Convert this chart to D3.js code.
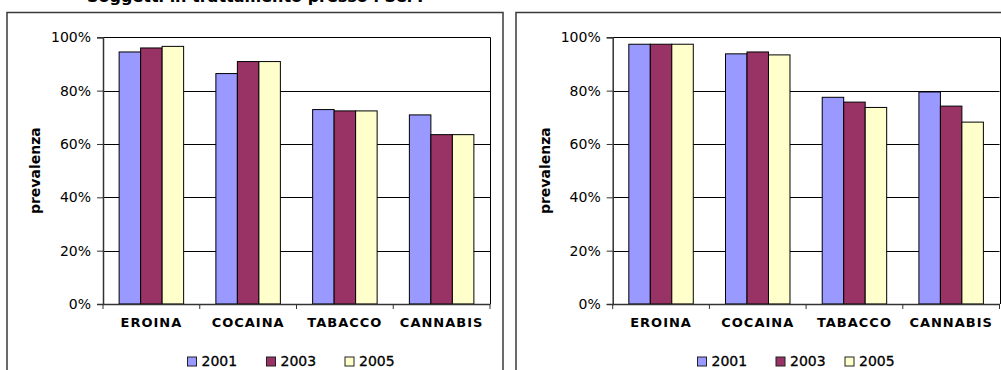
<!DOCTYPE html>
<html>
<head>
<meta charset="utf-8">
<script src="https://cdn.jsdelivr.net/npm/d3@7"></script>
<style>
  html, body { margin: 0; padding: 0; background: #fff; }
  svg { display: block; }
</style>
</head>
<body>
<svg id="chart" width="1001" height="370"></svg>
<script>
const categories = ["EROINA", "COCAINA", "TABACCO", "CANNABIS"];
const seriesNames = ["2001", "2003", "2005"];
const seriesColors = ["#9999FF", "#993366", "#FFFFCC"];
const yTicks = [0, 0.2, 0.4, 0.6, 0.8, 1.0];
const yTitle = "prevalenza";
const titleText = "Soggetti in trattamento presso i SerT";

// left panel values (per series, per category)
const leftValues = {
  "2001": [0.945, 0.864, 0.729, 0.709],
  "2003": [0.960, 0.909, 0.724, 0.635],
  "2005": [0.966, 0.909, 0.724, 0.635]
};
// right panel values
const rightValues = {
  "2001": [0.974, 0.938, 0.775, 0.795],
  "2003": [0.974, 0.945, 0.757, 0.742],
  "2005": [0.974, 0.934, 0.737, 0.682]
};

const svg = d3.select("#chart");
const FONT = "'DejaVu Sans', Verdana, sans-serif";

// partial title at the top (cut off by the top edge in the reference)
svg.append("text")
  .attr("x", 87).attr("y", 2)
  .attr("font-family", FONT).attr("font-weight", "bold").attr("font-size", 16)
  .attr("fill", "#000")
  .text(titleText);

function panel(opts, values) {
  const g = svg.append("g");
  // outer box
  g.append("rect")
    .attr("x", opts.boxX).attr("y", 12.5)
    .attr("width", opts.boxW).attr("height", 400)
    .attr("fill", "#fff").attr("stroke", "#3a3a3a").attr("stroke-width", 1.5);

  const x = d3.scaleBand().domain(categories)
    .range([opts.px0, opts.px1]).paddingInner(0).paddingOuter(0);
  const xs = d3.scaleBand().domain(seriesNames)
    .range([0, x.bandwidth()]).paddingInner(0).paddingOuter(0.75);
  const y = d3.scaleLinear().domain([0, 1]).range([opts.py1, opts.py0]);

  // gridlines
  g.append("g").selectAll("line").data(yTicks.filter(t => t > 0 && t < 1))
    .join("line")
    .attr("x1", opts.px0).attr("x2", opts.px1)
    .attr("y1", d => Math.round(y(d)) + 0.5).attr("y2", d => Math.round(y(d)) + 0.5)
    .attr("stroke", "#000").attr("stroke-width", 1);

  // plot frame top & right
  g.append("path")
    .attr("d", `M${opts.px0},${Math.round(y(1)) + 0.5}H${Math.round(opts.px1) + 0.5}V${opts.py1}`)
    .attr("fill", "none").attr("stroke", "#000").attr("stroke-width", 1);

  // bars
  seriesNames.forEach((s, si) => {
    g.append("g").selectAll("rect").data(categories)
      .join("rect")
      .attr("x", c => x(c) + xs(s))
      .attr("y", (c, i) => y(values[s][i]))
      .attr("width", xs.bandwidth())
      .attr("height", (c, i) => y(0) - y(values[s][i]))
      .attr("fill", seriesColors[si])
      .attr("stroke", "#000").attr("stroke-width", 1);
  });

  // y axis
  const yAxis = d3.axisLeft(y).tickValues(yTicks).tickFormat(d3.format(".0%"))
    .tickSize(6).tickPadding(6);
  const ya = g.append("g").attr("transform", `translate(${opts.px0},0)`).call(yAxis);
  ya.select(".domain").attr("stroke", "#333").attr("stroke-width", 1.5);
  ya.selectAll(".tick line").attr("stroke", "#333");
  ya.selectAll("text").attr("font-family", FONT).attr("font-size", 14).attr("fill", "#000");

  // x axis (labels)
  const xAxis = d3.axisBottom(x).tickSize(0).tickPadding(14);
  const xa = g.append("g").attr("transform", `translate(0,${opts.py1})`).call(xAxis);
  xa.select(".domain").attr("stroke", "#333").attr("stroke-width", 1.5);
  xa.selectAll("text").attr("font-family", FONT).attr("font-size", 13)
    .attr("font-weight", "bold").attr("letter-spacing", "1px").attr("fill", "#000");
  // x tick marks between categories
  const tickX = categories.map(c => x(c)).concat([x.range()[1]]);
  g.append("g").selectAll("line").data(tickX).join("line")
    .attr("x1", d => d).attr("x2", d => d)
    .attr("y1", opts.py1).attr("y2", opts.py1 + 5)
    .attr("stroke", "#333").attr("stroke-width", 1);

  // y title
  g.append("text")
    .attr("transform", `translate(${opts.titleX},${(opts.py0 + opts.py1) / 2}) rotate(-90)`)
    .attr("text-anchor", "middle").attr("dominant-baseline", "middle")
    .attr("font-family", FONT).attr("font-size", 14).attr("font-weight", "bold")
    .text(yTitle);

  // legend
  const lg = g.append("g").selectAll("g").data(seriesNames).join("g")
    .attr("transform", (d, i) => `translate(${opts.legendX[i]},361.5)`);
  lg.append("rect").attr("x", 0).attr("y", -4.5).attr("width", 9).attr("height", 9)
    .attr("fill", (d, i) => seriesColors[i]).attr("stroke", "#222").attr("stroke-width", 1);
  lg.append("text").attr("x", 14).attr("y", 0).attr("dominant-baseline", "middle")
    .attr("font-family", FONT).attr("font-size", 14).attr("fill", "#000")
    .attr("stroke", "#000").attr("stroke-width", 0.3)
    .text(d => d);
}

panel({ boxX: 7, boxW: 496, px0: 103, px1: 490, py0: 37.3, py1: 304, titleX: 36,
        legendX: [187.5, 266.5, 345] }, leftValues);
panel({ boxX: 516, boxW: 500, px0: 612.7, px1: 999.5, py0: 37.3, py1: 304, titleX: 546,
        legendX: [697.5, 776, 845] }, rightValues);
</script>
</body>
</html>
